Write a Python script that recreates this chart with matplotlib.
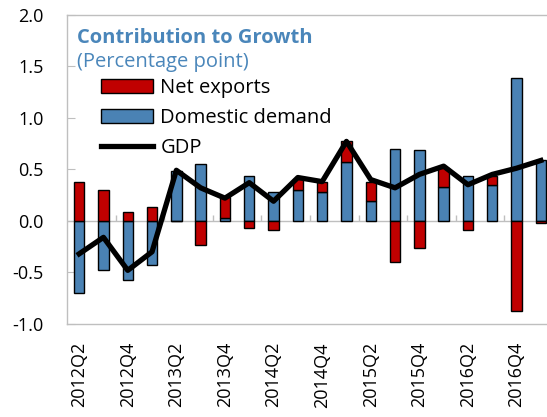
import matplotlib
matplotlib.use('Agg')
import matplotlib.pyplot as plt
import numpy as np

plt.rcParams['font.family'] = ['Open Sans', 'DejaVu Sans']
plt.rcParams['axes.unicode_minus'] = False

# quarters 2012Q2 .. 2017Q1
quarters = ['2012Q2', '2012Q3', '2012Q4', '2013Q1', '2013Q2', '2013Q3', '2013Q4',
            '2014Q1', '2014Q2', '2014Q3', '2014Q4', '2015Q1', '2015Q2', '2015Q3',
            '2015Q4', '2016Q1', '2016Q2', '2016Q3', '2016Q4', '2017Q1']
domestic = [-0.70, -0.475, -0.57, -0.43, 0.485, 0.55, 0.03, 0.43, 0.275, 0.295,
            0.28, 0.57, 0.197, 0.70, 0.69, 0.33, 0.43, 0.35, 1.38, 0.59]
net_exports = [0.38, 0.30, 0.087, 0.13, 0.0, -0.23, 0.205, -0.07, -0.087, 0.115,
               0.10, 0.20, 0.183, -0.40, -0.26, 0.18, -0.087, 0.08, -0.87, -0.02]
gdp = [-0.32, -0.16, -0.48, -0.30, 0.49, 0.32, 0.22, 0.37, 0.19, 0.42,
       0.38, 0.77, 0.40, 0.32, 0.45, 0.53, 0.35, 0.45, 0.51, 0.585]

blue = '#4A82B4'
red = '#C00000'
title_col = '#4A86BA'
grey = '#BFBFBF'

x = np.arange(len(quarters))
dom = np.array(domestic)
nx = np.array(net_exports)
# stack net exports on domestic demand when they share a sign
nx_bottom = np.where(np.sign(nx) == np.sign(dom), dom, 0)

fig = plt.figure(figsize=(5.47, 4.17), dpi=100)
ax = fig.add_axes([67 / 547, 1 - 324 / 417, 486 / 547, 309.5 / 417])

width = 0.43
b_dom = ax.bar(x, dom, width, color=blue, edgecolor='black', linewidth=1, zorder=2)
b_nx = ax.bar(x, nx, width, bottom=nx_bottom, color=red, edgecolor='black', linewidth=1, zorder=2)
l_gdp, = ax.plot(x, gdp, color='black', linewidth=3.8, zorder=3)

ax.axhline(0, color=grey, linewidth=1, zorder=1)
ax.vlines(np.arange(1.5, 20, 2), 0, 0.06, color=grey, linewidth=1, zorder=1)

ax.set_xlim(-0.5, 19.5)
ax.set_ylim(-1.0, 2.0)
ax.set_yticks(np.arange(-1.0, 2.01, 0.5))
ax.set_yticklabels([f'{v:.1f}' for v in np.arange(-1.0, 2.01, 0.5)])
ax.set_xticks(x[::2])
ax.set_xticklabels(quarters[::2], rotation=90)

ax.tick_params(axis='y', direction='in', length=6, color=grey, pad=17, labelsize=13)
ax.tick_params(axis='x', length=0, pad=13, labelsize=13)

for s in ['left', 'top', 'bottom']:
    ax.spines[s].set_color(grey)
    ax.spines[s].set_linewidth(1)
ax.spines['right'].set_visible(False)

ax.text(0.021, 0.925, 'Contribution to Growth', transform=ax.transAxes,
        fontsize=14.5, fontweight='bold', color=title_col, va='center', ha='left')
ax.text(0.021, 0.845, '(Percentage point)', transform=ax.transAxes,
        fontsize=14.5, color=title_col, va='center', ha='left')

ax.legend([b_nx, b_dom, l_gdp], ['Net exports', 'Domestic demand', 'GDP'],
          loc='upper left', bbox_to_anchor=(0.07, 0.795), frameon=False,
          fontsize=14.5, borderaxespad=0, borderpad=0, handlelength=2.6,
          handleheight=0.65, handletextpad=0.35, labelspacing=0.5)

fig.savefig('out.png', dpi=100)
